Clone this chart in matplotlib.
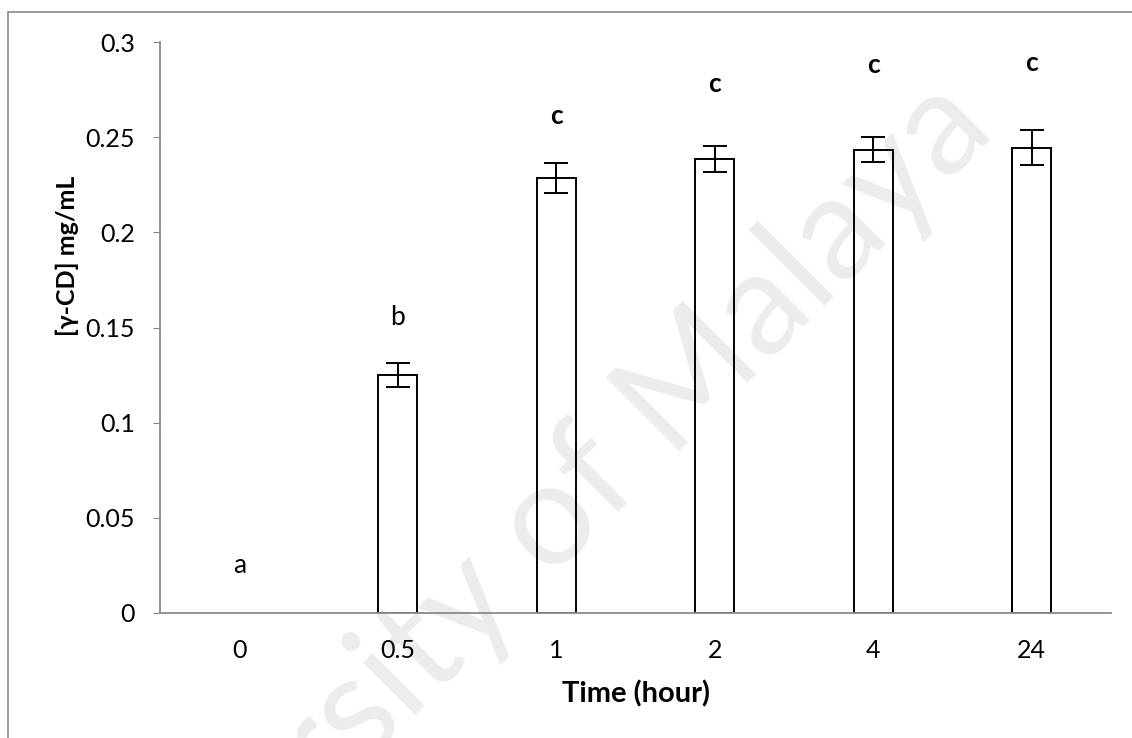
import numpy as np
import matplotlib.pyplot as plt
from matplotlib.patches import Rectangle

plt.rcParams['font.family'] = ['Lato', 'Noto Sans', 'DejaVu Sans']

times = ['0', '0.5', '1', '2', '4', '24']
conc = [0.0, 0.125, 0.2285, 0.2385, 0.2435, 0.2445]
err = [0.0, 0.0063, 0.008, 0.007, 0.0068, 0.0092]
letters = ['a', 'b', 'c', 'c', 'c', 'c']
letter_y = [0.021, 0.1513, 0.257, 0.2738, 0.2838, 0.2848]
letter_bold = [False, False, True, True, True, True]

W, H = 1132, 738
fig = plt.figure(figsize=(W/100, H/100), dpi=100)
ax = fig.add_axes([160/W, 1-613/H, (1111-160)/W, (613-42)/H])
ax.patch.set_visible(False)

# watermark behind everything
fig.text(500/W, 1-572/H, 'University of Malaya', fontsize=105, color='#ececec',
         rotation=45, ha='center', va='center', zorder=-5)

# chart frame (right/bottom edges fall outside the picture)
fig.patches.append(Rectangle((8/W, -0.1), 1.2, 1-12/H+0.1, transform=fig.transFigure,
                             fill=False, edgecolor='#8a8a8a', lw=1.2))

x = np.arange(len(times))
mask = np.array(conc) > 0
ax.bar(x[mask], np.array(conc)[mask], width=0.245, facecolor='none', edgecolor='black', lw=1.4)
ax.errorbar(x[mask], np.array(conc)[mask], yerr=np.array(err)[mask], fmt='none',
            ecolor='black', elinewidth=1.4, capsize=8.5, capthick=1.4)

for i, (t, yv, b) in enumerate(zip(letters, letter_y, letter_bold)):
    ax.text(i, yv, t, ha='center', va='baseline', fontsize=19,
            fontweight='bold' if b else 'normal')

ax.set_xlim(-0.5, len(times)-0.5)
ax.set_ylim(0, 0.3)
ax.set_yticks([0, 0.05, 0.1, 0.15, 0.2, 0.25, 0.3])
ax.set_yticklabels(['0', '0.05', '0.1', '0.15', '0.2', '0.25', '0.3'])
ax.set_xticks(x)
ax.set_xticklabels(times)
ax.tick_params(axis='y', length=5, color='#8a8a8a', labelsize=18, pad=13)
ax.tick_params(axis='x', length=0, labelsize=18, pad=19)
for s in ['top', 'right']:
    ax.spines[s].set_visible(False)
for s in ['left', 'bottom']:
    ax.spines[s].set_color('#8a8a8a')
    ax.spines[s].set_linewidth(1.3)

fig.text(636/W, 1-694/H, 'Time (hour)', fontsize=21, fontweight='bold', ha='center', va='center')
fig.text(67/W, 1-256/H, '[γ-CD] mg/mL', fontsize=18, fontweight='bold', rotation=90,
         ha='center', va='center')

fig.savefig('out.png', dpi=100)
